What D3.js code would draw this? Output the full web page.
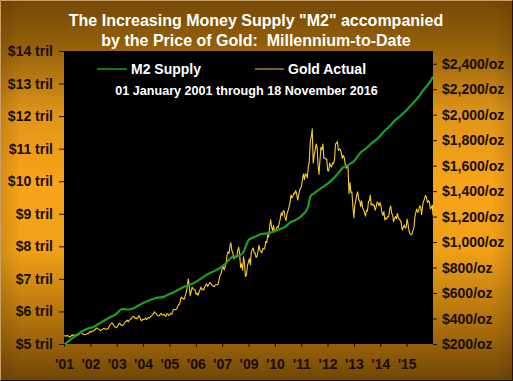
<!DOCTYPE html>
<html><head><meta charset="utf-8">
<script src="https://cdn.jsdelivr.net/npm/d3@7"></script>
<style>html,body{margin:0;padding:0;background:#000}svg{display:block}text.pre{white-space:pre}</style>
</head><body>
<script>
// ---------- DATA ----------
const title1 = 'The Increasing Money Supply "M2" accompanied';
const title2 = 'by the Price of Gold:  Millennium-to-Date';
const subtitle = '01 January 2001 through 18 November 2016';
const seriesNames = ['M2 Supply', 'Gold Actual'];
const xTickLabels = ["'01","'02","'03","'04","'05","'06","'07","'09","'10","'11","'12","'13","'14","'15"];
const leftTicks = [5,6,7,8,9,10,11,12,13,14];            // $ trillions
const rightTicks = [200,400,600,800,1000,1200,1400,1600,1800,2000,2200,2400]; // $/oz
const startDate = '2001-01-01', endDate = '2016-11-18';

// M2 money supply ($ trillions), dated points
const m2Dates = ['2001-01-01','2001-04-01','2001-07-01','2001-10-01','2002-01-01','2002-04-01','2002-07-01','2002-10-01',
'2003-01-01','2003-04-01','2003-07-01','2003-10-01','2004-01-01','2004-04-01','2004-07-01','2004-10-01',
'2005-01-01','2005-04-01','2005-07-01','2005-10-01','2006-01-01','2006-04-01','2006-07-01','2006-10-01',
'2007-01-01','2007-04-01','2007-07-01','2007-10-01','2008-01-01','2008-04-01','2008-07-01','2008-09-15','2008-11-01','2008-12-15',
'2009-04-01','2009-07-01','2009-10-01','2010-01-01','2010-04-01','2010-07-01','2010-10-01',
'2011-01-01','2011-04-01','2011-07-01','2011-08-15','2011-10-01','2012-01-01','2012-04-01','2012-07-01','2012-10-01',
'2013-01-01','2013-04-01','2013-07-01','2013-10-01','2014-01-01','2014-04-01','2014-07-01','2014-10-01',
'2015-01-01','2015-04-01','2015-07-01','2015-10-01','2016-01-01','2016-04-01','2016-07-01','2016-10-01','2016-11-18'];
const m2Values = [4.97,5.12,5.25,5.38,5.47,5.52,5.62,5.73,
5.83,5.92,6.07,6.06,6.10,6.20,6.29,6.36,
6.42,6.44,6.52,6.60,6.70,6.78,6.84,6.94,
7.06,7.17,7.25,7.35,7.50,7.68,7.71,7.80,8.02,8.20,
8.30,8.38,8.40,8.45,8.52,8.59,8.74,
8.82,8.95,9.20,9.55,9.62,9.76,9.87,10.02,10.20,
10.42,10.51,10.63,10.87,11.01,11.17,11.31,11.51,
11.68,11.87,12.02,12.19,12.38,12.58,12.83,13.05,13.22];

// Gold price ($/oz), two readings per month (early / late), Jan 2001 .. Nov 2016
const goldValues = [
265,264, 262,266, 263,258, 256,263, 272,267, 270,271, 267,265, 272,273, 290,293, 282,279, 276,273, 275,278,
283,282, 297,297, 292,302, 302,308, 314,326, 321,318, 316,305, 310,312, 319,324, 317,316, 319,318, 334,347,
357,367, 356,346, 334,334, 328,339, 355,364, 353,346, 346,354, 360,375, 380,388, 373,386, 392,398, 410,416,
416,400, 405,397, 406,424, 408,388, 383,393, 393,395, 405,391, 402,409, 405,416, 420,428, 440,453, 441,437,
424,422, 423,434, 440,428, 428,435, 422,417, 438,435, 423,430, 440,434, 460,473, 470,470, 475,495, 510,513,
555,568, 555,556, 553,582, 610,654, 712,655, 580,613, 645,632, 630,623, 590,599, 583,604, 625,646, 625,632,
626,650, 664,672, 652,662, 682,680, 666,655, 655,650, 665,665, 665,672, 713,743, 758,789, 810,783, 804,834,
895,924, 910,971, 995,933, 915,870, 885,885, 880,930, 960,912, 800,830, 780,885, 830,730, 740,814, 840,870,
820,919, 945,952, 915,916, 880,888, 925,975, 935,927, 915,950, 945,955, 1006,996, 1055,1040, 1120,1175, 1120,1088,
1130,1081, 1090,1109, 1120,1113, 1150,1180, 1230,1207, 1245,1244, 1190,1169, 1225,1246, 1275,1307, 1370,1346, 1360,1385, 1380,1405,
1370,1330, 1375,1410, 1420,1439, 1495,1535, 1490,1536, 1530,1505, 1590,1628, 1790,1825, 1890,1620, 1680,1720, 1770,1746, 1600,1531,
1650,1744, 1725,1770, 1660,1662, 1650,1651, 1560,1558, 1620,1598, 1590,1622, 1615,1648, 1770,1776, 1790,1719, 1730,1726, 1700,1657,
1680,1664, 1610,1578, 1600,1598, 1380,1467, 1390,1394, 1280,1192, 1290,1323, 1370,1394, 1330,1326, 1280,1324, 1270,1253, 1230,1204,
1250,1244, 1320,1326, 1370,1291, 1300,1288, 1290,1250, 1275,1315, 1310,1285, 1310,1285, 1230,1210, 1240,1173, 1190,1182, 1200,1200,
1260,1283, 1225,1213, 1160,1183, 1200,1183, 1225,1190, 1180,1171, 1150,1095, 1115,1135, 1110,1115, 1180,1142, 1085,1065, 1060,1062,
1090,1112, 1200,1235, 1260,1233, 1250,1285, 1275,1215, 1290,1320, 1340,1366, 1350,1310, 1325,1316, 1260,1270, 1290,1210
];

// ---------- LAYOUT ----------
const W = 513, H = 381;
const plot = {l: 64, r: 433, t: 51, b: 344};
const FONT = "'Liberation Sans', Arial, sans-serif";
const parse = d3.timeParse('%Y-%m-%d');
const t0 = parse(startDate), t1 = parse(endDate);

const svg = d3.select('body').append('svg').attr('width', W).attr('height', H);
const defs = svg.append('defs');
const bg = defs.append('linearGradient').attr('id','bg').attr('x1',0).attr('y1',0).attr('x2',0).attr('y2',1);
[[0,'#754806'],[0.12,'#93600a'],[0.3,'#e09518'],[0.48,'#f9a419'],[0.66,'#efa017'],[0.86,'#aa6d0c'],[1,'#6f4606']]
  .forEach(([o,c]) => bg.append('stop').attr('offset',o).attr('stop-color',c));
const side = defs.append('linearGradient').attr('id','side').attr('x1',0).attr('y1',0).attr('x2',1).attr('y2',0);
[[0,'rgba(70,35,0,0.18)'],[0.04,'rgba(70,35,0,0)'],[0.96,'rgba(70,35,0,0)'],[1,'rgba(70,35,0,0.18)']]
  .forEach(([o,c]) => side.append('stop').attr('offset',o).attr('stop-color',c));
defs.append('clipPath').attr('id','clip').append('rect')
  .attr('x',plot.l).attr('y',plot.t).attr('width',plot.r-plot.l).attr('height',plot.b-plot.t);

svg.append('rect').attr('width',W).attr('height',H).attr('fill','url(#bg)');
svg.append('rect').attr('width',W).attr('height',H).attr('fill','url(#side)');
// bevel border
svg.append('path').attr('d',`M0.5,${H-0.5}V0.5H${W-0.5}`).attr('stroke','#c9a066').attr('fill','none');
svg.append('path').attr('d',`M0.5,${H-0.5}H${W-0.5}V0.5`).attr('stroke','#1e1200').attr('fill','none');

svg.append('rect').attr('x',plot.l).attr('y',plot.t).attr('width',plot.r-plot.l).attr('height',plot.b-plot.t).attr('fill','#000');

// scales
const x = d3.scaleTime().domain([t0,t1]).range([plot.l, plot.r]);
const yL = d3.scaleLinear().domain([5,14]).range([plot.b, plot.t]);
const yR = d3.scaleLinear().domain([200,2500]).range([plot.b, plot.t]);

// series
const m2 = m2Dates.map((d,i) => ({date: parse(d), v: m2Values[i]}));
const gold = goldValues.map((v,i) => {
  const yr = 2001 + Math.floor(i/24), mo = Math.floor(i/2) % 12, day = i % 2 ? 23 : 8;
  let dt = new Date(yr, mo, i === 0 ? 1 : day);
  if (dt > t1) dt = t1;
  return {date: dt, v};
});

const g = svg.append('g').attr('clip-path','url(#clip)');
g.append('path').datum(gold)
  .attr('d', d3.line().x(d => x(d.date)).y(d => yR(d.v)))
  .attr('fill','none').attr('stroke','#f6cd2c').attr('stroke-width',1.1).attr('stroke-linejoin','round');
g.append('path').datum(m2)
  .attr('d', d3.line().curve(d3.curveMonotoneX).x(d => x(d.date)).y(d => yL(d.v)))
  .attr('fill','none').attr('stroke','#1f9c22').attr('stroke-width',2.2);

// axes
const axColor = '#170d00';
function styleAxis(sel){
  sel.select('.domain').remove();
  sel.selectAll('line').attr('stroke', axColor);
  sel.selectAll('text').attr('fill', axColor).style('font-family', FONT).style('font-weight','bold').style('font-size','14px');
}
svg.append('g').attr('transform',`translate(${plot.l},0)`)
  .call(d3.axisLeft(yL).tickValues(leftTicks).tickSize(5).tickPadding(6).tickFormat(d => `$${d} tril`))
  .call(styleAxis);
svg.append('g').attr('transform',`translate(${plot.r},0)`)
  .call(d3.axisRight(yR).tickValues(rightTicks).tickSize(4).tickPadding(5).tickFormat(d => `$${d3.format(',')(d)}/oz`))
  .call(styleAxis);
// category-style labels evenly spaced across the time span
const span = t1 - t0;
const xTickDates = xTickLabels.map((_, i) => new Date(+t0 + span * i / xTickLabels.length));
svg.append('g').attr('transform',`translate(0,${plot.b})`)
  .call(d3.axisBottom(x).tickValues(xTickDates).tickSize(3).tickPadding(12)
    .tickFormat((d,i) => xTickLabels[i]))
  .call(styleAxis);

// titles
const tt = svg.append('g').style('font-family', FONT).style('font-weight','bold').attr('fill','#fff')
  .attr('text-anchor','middle');
tt.append('text').attr('class','pre').attr('xml:space','preserve').attr('x',256).attr('y',26).style('font-size','16px').text(title1);
tt.append('text').attr('class','pre').attr('xml:space','preserve').attr('x',256).attr('y',46).style('font-size','16px').text(title2);

// legend
const lg = svg.append('g').style('font-family', FONT).style('font-weight','bold').style('font-size','14px').attr('fill','#fff');
lg.append('line').attr('x1',97).attr('x2',127).attr('y1',69).attr('y2',69).attr('stroke','#1f9c22').attr('stroke-width',1.5);
lg.append('text').attr('x',131).attr('y',74).text(seriesNames[0]);
lg.append('line').attr('x1',255).attr('x2',284).attr('y1',69).attr('y2',69).attr('stroke','#e8c45a').attr('stroke-width',1);
lg.append('text').attr('x',288).attr('y',74).text(seriesNames[1]);
lg.append('text').attr('x',246.5).attr('y',95).attr('text-anchor','middle').style('font-size','12.6px').text(subtitle);
</script>
</body></html>
